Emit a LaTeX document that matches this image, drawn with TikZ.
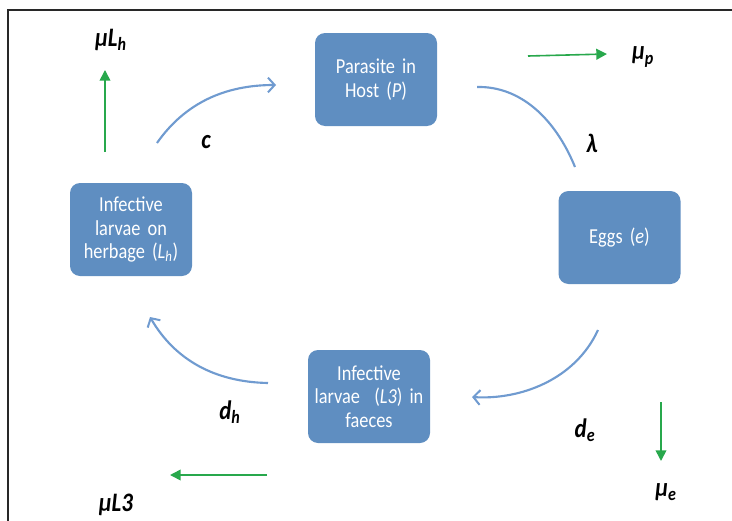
\documentclass[tikz,border=0pt]{standalone}
\usepackage{fontspec}
\setmainfont{Carlito}[FakeStretch=0.86]
\usetikzlibrary{arrows.meta}
\definecolor{boxblue}{RGB}{95,142,193}
\definecolor{arcblue}{RGB}{112,155,208}
\definecolor{lossgreen}{RGB}{40,168,76}
\definecolor{framegray}{RGB}{40,40,40}
\tikzset{
  stage/.style={draw=none, fill=boxblue, rounded corners=7.5pt, minimum width=91.5pt,
    minimum height=69.75pt, text width=90pt, align=center, text=white,
    font=\fontsize{16}{17.5}\selectfont, inner sep=0pt},
  flow/.style={draw=arcblue, line width=1.6pt, -{Straight Barb[length=5pt,width=11pt,line width=1.5pt]}},
  flowplain/.style={draw=arcblue, line width=1.6pt},
  loss/.style={draw=lossgreen, line width=1.2pt, -{Triangle[length=8pt,width=8pt]}},
  rate/.style={font=\fontsize{20}{22}\selectfont\bfseries\itshape, inner sep=0pt}
}
\begin{document}
\begin{tikzpicture}[x=0.75pt,y=-0.75pt]
\useasboundingbox (0,0) rectangle (732,521);
\draw[framegray, line width=1.5pt] (732,10) -- (8,10) -- (8,521);

\node[stage] (P) at (376,79.5) {Parasite in\\Host (\textit{P})};
\node[stage] (Lh) at (131,229.5) {Infective\\larvae on\\herbage (\textit{L}\textsubscript{\textit{h}})};
\node[stage] (E) at (619.5,237.5) {Eggs (\textit{e})};
\node[stage] (L3) at (369,396.5) {Infective\\larvae \ (\textit{L3}) in\\faeces};

% blue transition arcs
\coordinate (c1) at (157,143);
\coordinate (c2) at (276,85);
\draw[flow] (c1) .. controls (185,103) and (225,85) .. (c2);
\coordinate (l1) at (477,87);
\coordinate (l2) at (575,167);
\draw[flowplain] (l1) .. controls (520,86) and (555,118) .. (l2);
\coordinate (e1) at (598,330);
\coordinate (e2) at (472,397);
\draw[flow] (e1) .. controls (575,380) and (520,400) .. (e2);
\coordinate (h1) at (268,383);
\coordinate (h2) at (150,317);
\draw[flow] (h1) .. controls (215,382) and (175,360) .. (h2);

% labels
\node[rate] (lc) at (206,142) {c};
\node[rate] (llam) at (592,143) {λ};
\node[rate] (ldh) at (230,412) {d\textsubscript{h}};
\node[rate] (lde) at (585,430) {d\textsubscript{e}};
\node[rate] (lmuLh) at (111,40) {μL\textsubscript{h}};
\node[rate] (lmup) at (643,57) {μ\textsubscript{p}};
\node[rate] (lmue) at (666,492) {μ\textsubscript{e}};
\node[rate] (lmuL3) at (116,505) {μL3};

% green loss arrows
\coordinate (g1a) at (105,152); \coordinate (g1b) at (105,70);
\draw[loss] (g1a) -- (g1b);
\coordinate (g2a) at (528,56); \coordinate (g2b) at (607,54);
\draw[loss] (g2a) -- (g2b);
\coordinate (g3a) at (661,402); \coordinate (g3b) at (661,461);
\draw[loss] (g3a) -- (g3b);
\coordinate (g4a) at (267,475); \coordinate (g4b) at (170,475);
\draw[loss] (g4a) -- (g4b);
\end{tikzpicture}
\end{document}
